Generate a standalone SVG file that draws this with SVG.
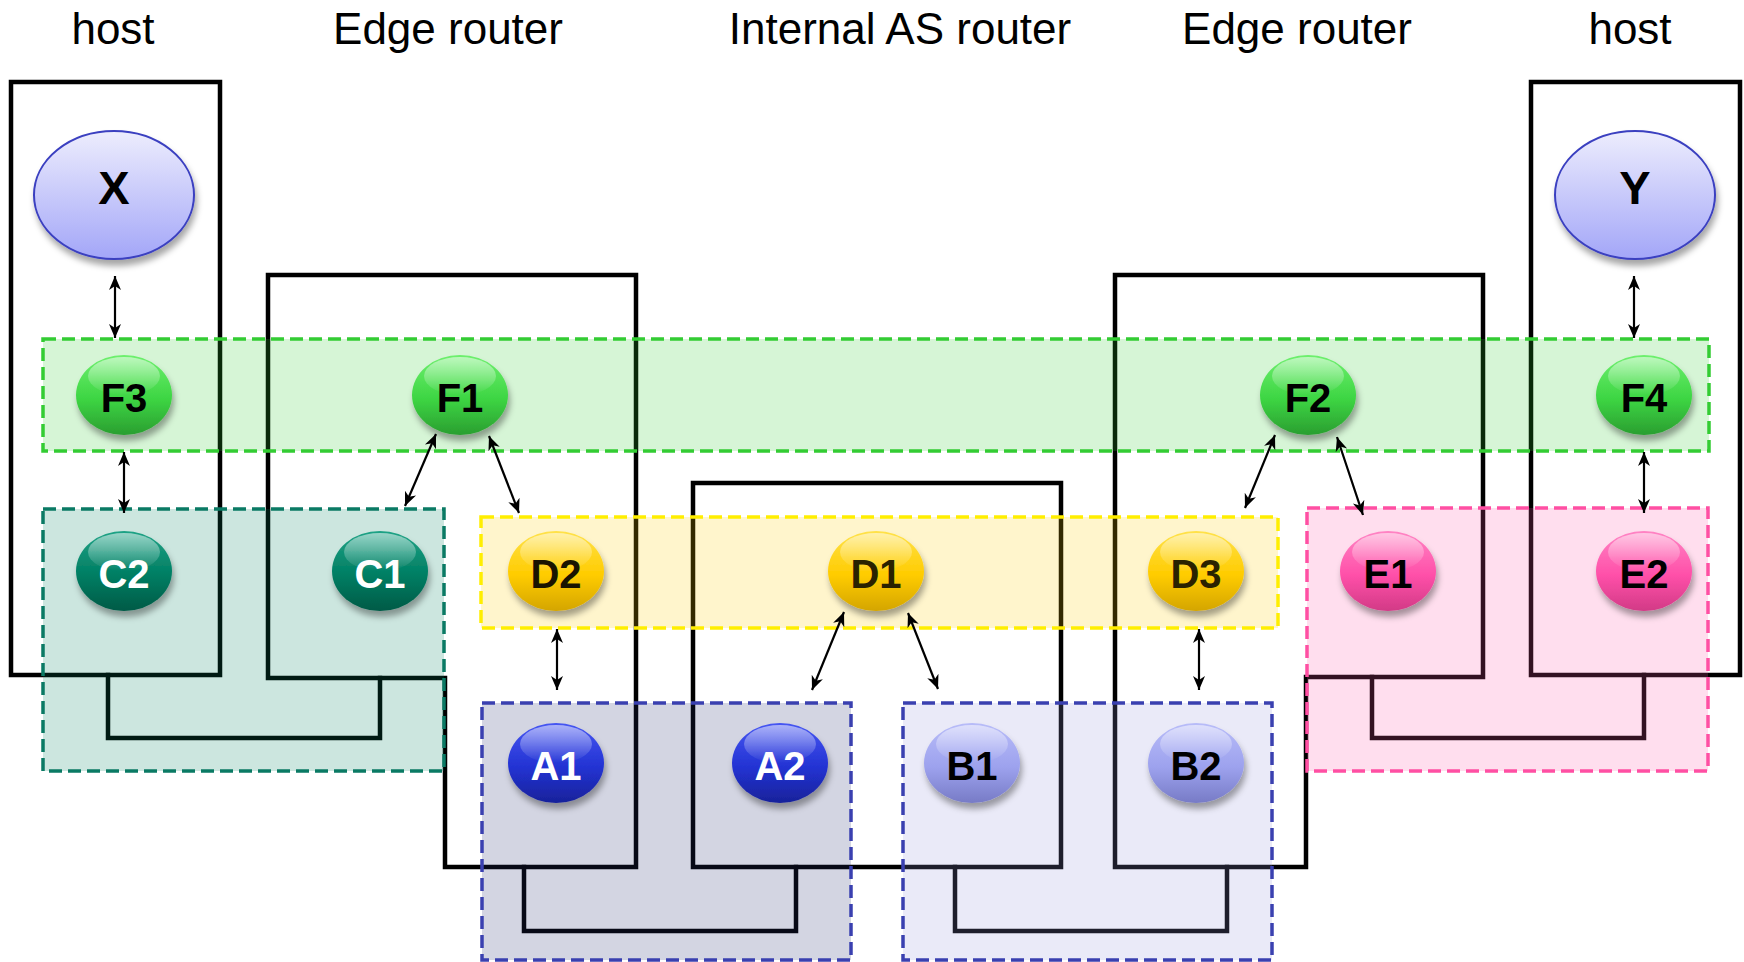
<svg xmlns="http://www.w3.org/2000/svg" width="1744" height="962" viewBox="0 0 1744 962">
<style>
.title{font-family:"Liberation Sans",Arial,sans-serif;font-size:44px;fill:#000;text-anchor:middle}
.lbl{font-family:"Liberation Sans",Arial,sans-serif;font-size:40px;font-weight:bold;text-anchor:middle}
.big{font-family:"Liberation Sans",Arial,sans-serif;font-size:47px;font-weight:bold;text-anchor:middle;fill:#000}
.struct{fill:none;stroke:#000;stroke-width:4.5;stroke-linejoin:miter;stroke-linecap:square}
.band{stroke-width:3.5;stroke-dasharray:13 6}
.conn{stroke:#000;stroke-width:2.2;fill:none;marker-start:url(#ah);marker-end:url(#ah)}
.hl{fill:url(#gHL)}
.wt{fill:#fff}
.bk{fill:#000}
</style>
<defs>
<marker id="ah" viewBox="-14 -7 15 14" refX="0" refY="0" markerWidth="15" markerHeight="14" markerUnits="userSpaceOnUse" orient="auto-start-reverse">
<path d="M0,0 L-14,-6 L-10,0 L-14,6 Z" fill="#000"/>
</marker>
<filter id="sh" x="-30%" y="-30%" width="160%" height="170%">
<feDropShadow dx="2" dy="6" stdDeviation="3" flood-color="#000" flood-opacity="0.35"/>
</filter>
<linearGradient id="gHL" x1="0" y1="0" x2="0" y2="1"><stop offset="0" stop-color="#fff" stop-opacity="0.55"/><stop offset="1" stop-color="#fff" stop-opacity="0"/></linearGradient>
<linearGradient id="gF" x1="0" y1="0" x2="0" y2="1"><stop offset="0" stop-color="#6ef06e"/><stop offset="0.55" stop-color="#3dd543"/><stop offset="1" stop-color="#2a9e30"/></linearGradient>
<linearGradient id="gC" x1="0" y1="0" x2="0" y2="1"><stop offset="0" stop-color="#20a386"/><stop offset="0.55" stop-color="#007e63"/><stop offset="1" stop-color="#005a46"/></linearGradient>
<linearGradient id="gD" x1="0" y1="0" x2="0" y2="1"><stop offset="0" stop-color="#ffe24a"/><stop offset="0.55" stop-color="#ffcc00"/><stop offset="1" stop-color="#d4a500"/></linearGradient>
<linearGradient id="gA" x1="0" y1="0" x2="0" y2="1"><stop offset="0" stop-color="#4656f2"/><stop offset="0.55" stop-color="#2333d3"/><stop offset="1" stop-color="#18229a"/></linearGradient>
<linearGradient id="gB" x1="0" y1="0" x2="0" y2="1"><stop offset="0" stop-color="#b8bcf8"/><stop offset="0.55" stop-color="#9da2ee"/><stop offset="1" stop-color="#777bc6"/></linearGradient>
<linearGradient id="gE" x1="0" y1="0" x2="0" y2="1"><stop offset="0" stop-color="#ff84c4"/><stop offset="0.55" stop-color="#ff50a9"/><stop offset="1" stop-color="#d23a86"/></linearGradient>
<linearGradient id="gH" x1="0" y1="0" x2="0" y2="1"><stop offset="0" stop-color="#ededfd"/><stop offset="1" stop-color="#a3a6f8"/></linearGradient>
</defs>

<g id="titles">
<text class="title" x="113" y="44">host</text>
<text class="title" x="448" y="44">Edge router</text>
<text class="title" x="900" y="44">Internal AS router</text>
<text class="title" x="1297" y="44">Edge router</text>
<text class="title" x="1630" y="44">host</text>
</g>

<g id="structure">
<path class="struct" d="M11,82 H220 V675 H11 Z"/>
<path class="struct" d="M268,275 H636 V867 H445 V678 H268 Z"/>
<path class="struct" d="M693,483 H1061 V867 H693 Z"/>
<path class="struct" d="M1115,275 H1483 V677 H1306 V867 H1115 Z"/>
<path class="struct" d="M1531,82 H1740 V675 H1531 Z"/>
<path class="struct" d="M108,675 V738 H380 V678"/>
<path class="struct" d="M524,867 V931 H796 V867"/>
<path class="struct" d="M955,867 V931 H1227 V867"/>
<path class="struct" d="M1372,677 V738 H1644 V675"/>
</g>

<g id="bands">
<rect id="bandF" class="band" x="43" y="339" width="1666" height="112" fill="#33cc33" fill-opacity="0.2" stroke="#33cc33"/>
<rect id="bandC" class="band" x="43" y="509" width="401" height="262" fill="#008060" fill-opacity="0.2" stroke="#0a7a64"/>
<rect id="bandD" class="band" x="481" y="517" width="797" height="111" fill="#ffcc00" fill-opacity="0.2" stroke="#ffee00"/>
<rect id="bandA" class="band" x="482" y="703" width="369" height="257" fill="#222c70" fill-opacity="0.2" stroke="#3a40b0" stroke-width="3"/>
<rect id="bandB" class="band" x="903" y="703" width="369" height="257" fill="#9494dc" fill-opacity="0.2" stroke="#3a40b0" stroke-width="3"/>
<rect id="bandE" class="band" x="1307" y="508" width="401" height="263" fill="#ff5aa8" fill-opacity="0.2" stroke="#ff4fa3"/>
</g>

<g id="connectors">
<line class="conn" x1="115" y1="276" x2="115" y2="338"/>
<line class="conn" x1="124" y1="452" x2="124" y2="513"/>
<line class="conn" x1="436" y1="434" x2="405" y2="506"/>
<line class="conn" x1="489" y1="436" x2="519" y2="513"/>
<line class="conn" x1="557" y1="629" x2="557" y2="690"/>
<line class="conn" x1="844" y1="612" x2="812" y2="690"/>
<line class="conn" x1="908" y1="613" x2="938" y2="689"/>
<line class="conn" x1="1199" y1="629" x2="1199" y2="690"/>
<line class="conn" x1="1275" y1="435" x2="1245" y2="508"/>
<line class="conn" x1="1337" y1="437" x2="1363" y2="515"/>
<line class="conn" x1="1634" y1="276" x2="1634" y2="338"/>
<line class="conn" x1="1644" y1="452" x2="1644" y2="513"/>
</g>

<g id="X"><ellipse cx="114" cy="195" rx="80" ry="64" fill="url(#gH)" stroke="#3a3fc0" stroke-width="2" filter="url(#sh)"/><text class="big" x="114" y="204">X</text></g>
<g id="Y"><ellipse cx="1635" cy="195" rx="80" ry="64" fill="url(#gH)" stroke="#3a3fc0" stroke-width="2" filter="url(#sh)"/><text class="big" x="1635" y="204">Y</text></g>

<g id="F3"><ellipse cx="124" cy="395" rx="48" ry="40" fill="url(#gF)" filter="url(#sh)"/><ellipse class="hl" cx="124" cy="376" rx="36" ry="19"/><text class="lbl bk" x="124" y="412">F3</text></g>
<g id="F1"><ellipse cx="460" cy="395" rx="48" ry="40" fill="url(#gF)" filter="url(#sh)"/><ellipse class="hl" cx="460" cy="376" rx="36" ry="19"/><text class="lbl bk" x="460" y="412">F1</text></g>
<g id="F2"><ellipse cx="1308" cy="395" rx="48" ry="40" fill="url(#gF)" filter="url(#sh)"/><ellipse class="hl" cx="1308" cy="376" rx="36" ry="19"/><text class="lbl bk" x="1308" y="412">F2</text></g>
<g id="F4"><ellipse cx="1644" cy="395" rx="48" ry="40" fill="url(#gF)" filter="url(#sh)"/><ellipse class="hl" cx="1644" cy="376" rx="36" ry="19"/><text class="lbl bk" x="1644" y="412">F4</text></g>

<g id="C2"><ellipse cx="124" cy="571" rx="48" ry="40" fill="url(#gC)" filter="url(#sh)"/><ellipse class="hl" cx="124" cy="552" rx="36" ry="19"/><text class="lbl wt" x="124" y="588">C2</text></g>
<g id="C1"><ellipse cx="380" cy="571" rx="48" ry="40" fill="url(#gC)" filter="url(#sh)"/><ellipse class="hl" cx="380" cy="552" rx="36" ry="19"/><text class="lbl wt" x="380" y="588">C1</text></g>

<g id="D2"><ellipse cx="556" cy="571" rx="48" ry="40" fill="url(#gD)" filter="url(#sh)"/><ellipse class="hl" cx="556" cy="552" rx="36" ry="19"/><text class="lbl" fill="#1a1400" x="556" y="588">D2</text></g>
<g id="D1"><ellipse cx="876" cy="571" rx="48" ry="40" fill="url(#gD)" filter="url(#sh)"/><ellipse class="hl" cx="876" cy="552" rx="36" ry="19"/><text class="lbl" fill="#2a2200" x="876" y="588">D1</text></g>
<g id="D3"><ellipse cx="1196" cy="571" rx="48" ry="40" fill="url(#gD)" filter="url(#sh)"/><ellipse class="hl" cx="1196" cy="552" rx="36" ry="19"/><text class="lbl" fill="#2a2200" x="1196" y="588">D3</text></g>

<g id="E1"><ellipse cx="1388" cy="571" rx="48" ry="40" fill="url(#gE)" filter="url(#sh)"/><ellipse class="hl" cx="1388" cy="552" rx="36" ry="19"/><text class="lbl bk" x="1388" y="588">E1</text></g>
<g id="E2"><ellipse cx="1644" cy="571" rx="48" ry="40" fill="url(#gE)" filter="url(#sh)"/><ellipse class="hl" cx="1644" cy="552" rx="36" ry="19"/><text class="lbl bk" x="1644" y="588">E2</text></g>

<g id="A1"><ellipse cx="556" cy="763" rx="48" ry="40" fill="url(#gA)" filter="url(#sh)"/><ellipse class="hl" cx="556" cy="744" rx="36" ry="19"/><text class="lbl wt" x="556" y="780">A1</text></g>
<g id="A2"><ellipse cx="780" cy="763" rx="48" ry="40" fill="url(#gA)" filter="url(#sh)"/><ellipse class="hl" cx="780" cy="744" rx="36" ry="19"/><text class="lbl wt" x="780" y="780">A2</text></g>

<g id="B1"><ellipse cx="972" cy="763" rx="48" ry="40" fill="url(#gB)" filter="url(#sh)"/><ellipse class="hl" cx="972" cy="744" rx="36" ry="19"/><text class="lbl bk" x="972" y="780">B1</text></g>
<g id="B2"><ellipse cx="1196" cy="763" rx="48" ry="40" fill="url(#gB)" filter="url(#sh)"/><ellipse class="hl" cx="1196" cy="744" rx="36" ry="19"/><text class="lbl bk" x="1196" y="780">B2</text></g>
</svg>
